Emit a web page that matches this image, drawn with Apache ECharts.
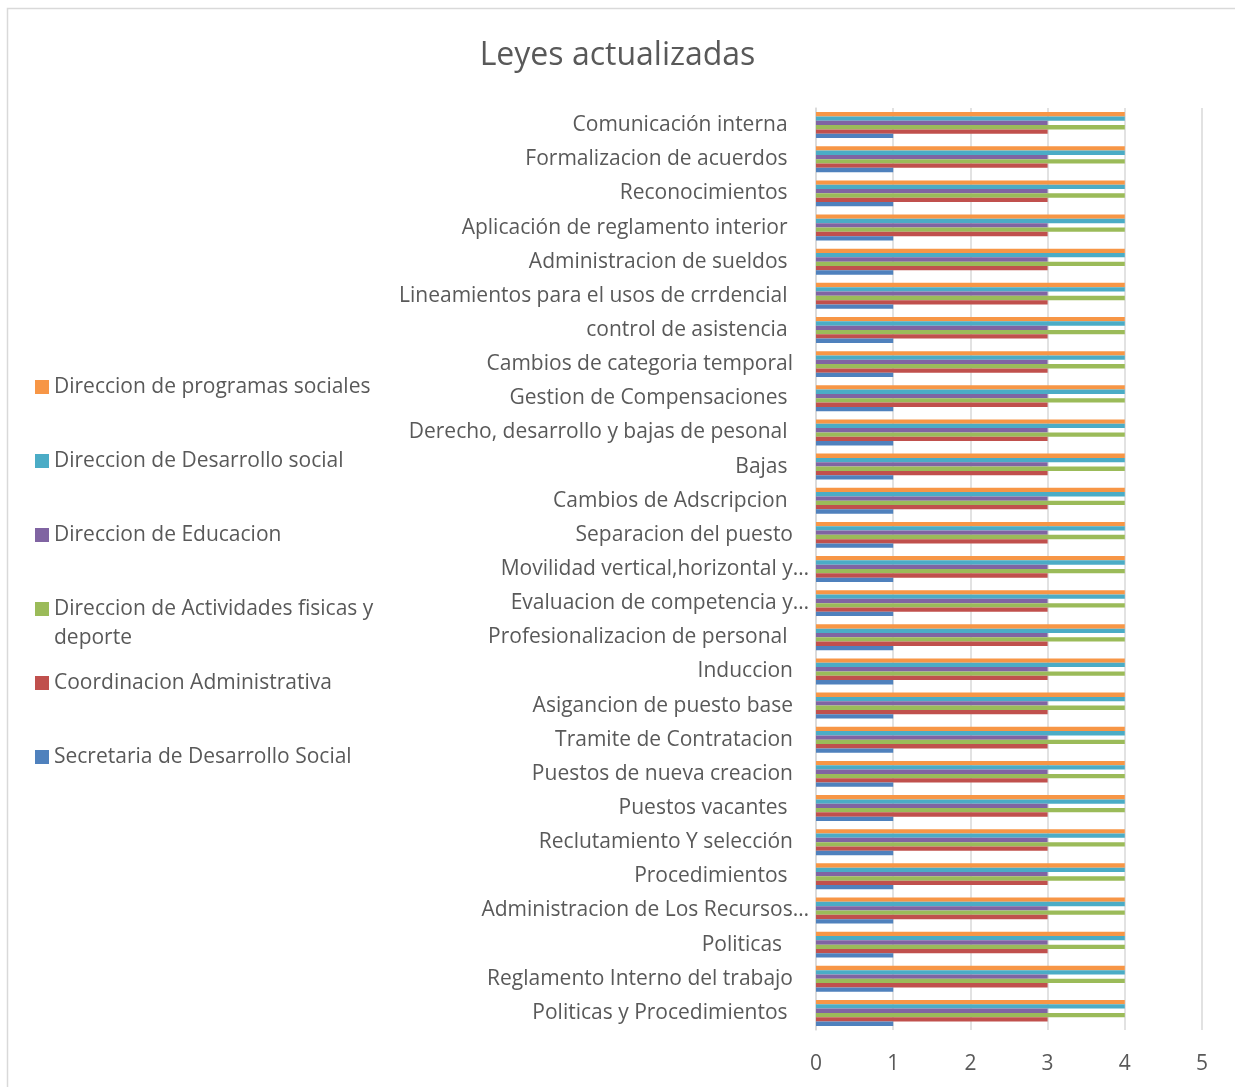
<!DOCTYPE html>
<html>
<head>
<meta charset="utf-8">
<title>Leyes actualizadas</title>
<script src="https://cdn.jsdelivr.net/npm/echarts@6/dist/echarts.min.js"></script>
<style>
  html, body { margin: 0; padding: 0; background: #ffffff; }
  #chart { width: 1235px; height: 1087px; }
</style>
</head>
<body>
<div id="chart"></div>
<script>
// Categories listed from the bottom of the axis to the top
const categories = [
  'Politicas y Procedimientos ',
  'Reglamento Interno del trabajo',
  'Politicas  ',
  'Administracion de Los Recursos…',
  'Procedimientos ',
  'Reclutamiento Y selección',
  'Puestos vacantes ',
  'Puestos de nueva creacion',
  'Tramite de Contratacion',
  'Asigancion de puesto base',
  'Induccion',
  'Profesionalizacion de personal ',
  'Evaluacion de competencia y…',
  'Movilidad vertical,horizontal y…',
  'Separacion del puesto',
  'Cambios de Adscripcion ',
  'Bajas ',
  'Derecho, desarrollo y bajas de pesonal ',
  'Gestion de Compensaciones ',
  'Cambios de categoria temporal',
  'control de asistencia ',
  'Lineamientos para el usos de crrdencial ',
  'Administracion de sueldos ',
  'Aplicación de reglamento interior ',
  'Reconocimientos ',
  'Formalizacion de acuerdos ',
  'Comunicación interna '
];

// Series in legend order (top of the legend first)
const seriesNames = [
  'Direccion de programas sociales',
  'Direccion de Desarrollo social',
  'Direccion de Educacion',
  'Direccion de Actividades fisicas y deporte',
  'Coordinacion Administrativa',
  'Secretaria de Desarrollo Social'
];

const programasSociales          = [4,4,4,4,4,4,4,4,4,4,4,4,4,4,4,4,4,4,4,4,4,4,4,4,4,4,4];
const direccionDesarrolloSocial  = [4,4,4,4,4,4,4,4,4,4,4,4,4,4,4,4,4,4,4,4,4,4,4,4,4,4,4];
const direccionEducacion         = [3,3,3,3,3,3,3,3,3,3,3,3,3,3,3,3,3,3,3,3,3,3,3,3,3,3,3];
const actividadesFisicasDeporte  = [4,4,4,4,4,4,4,4,4,4,4,4,4,4,4,4,4,4,4,4,4,4,4,4,4,4,4];
const coordinacionAdministrativa = [3,3,3,3,3,3,3,3,3,3,3,3,3,3,3,3,3,3,3,3,3,3,3,3,3,3,3];
const secretariaDesarrolloSocial = [1,1,1,1,1,1,1,1,1,1,1,1,1,1,1,1,1,1,1,1,1,1,1,1,1,1,1];

const seriesValues = [
  programasSociales,
  direccionDesarrolloSocial,
  direccionEducacion,
  actividadesFisicasDeporte,
  coordinacionAdministrativa,
  secretariaDesarrolloSocial
];

const xTicks = [0, 1, 2, 3, 4, 5];

const colors = ['#F79646', '#4BACC6', '#8064A2', '#9BBB59', '#C0504D', '#4F81BD'];
const textColor = '#595959';
const gridColor = '#D9D9D9';
const font = 'Open Sans';
const fontSize = 21;

// One legend block per series, stacked top to bottom
const legendCenters = [387, 461, 535, 609, 683, 757];
const legends = seriesNames.map((name, i) => {
  const wrapped = name === 'Direccion de Actividades fisicas y deporte';
  return {
    orient: 'vertical',
    left: 35,
    top: wrapped ? legendCenters[i] - 43.5 : legendCenters[i] - 14.5,
    padding: 0,
    itemWidth: 14,
    itemHeight: 14,
    itemGap: 0,
    icon: 'rect',
    selectedMode: false,
    data: [name],
    // blank first line keeps the square level with the first line of text
    formatter: n => wrapped ? '\nDireccion de Actividades fisicas y\ndeporte' : n,
    textStyle: {
      color: textColor,
      fontFamily: font,
      fontSize: fontSize,
      lineHeight: 29
    }
  };
});

const chart = echarts.init(document.getElementById('chart'), null, { renderer: 'canvas' });

chart.setOption({
  backgroundColor: '#ffffff',
  animation: false,
  title: {
    text: 'Leyes actualizadas',
    left: 'center',
    top: 35,
    textStyle: {
      color: textColor,
      fontFamily: font,
      fontSize: 32,
      fontWeight: 'normal'
    }
  },
  graphic: [{
    type: 'rect',
    silent: true,
    shape: { x: 7.5, y: 8.5, width: 1240, height: 1100 },
    style: { fill: 'none', stroke: gridColor, lineWidth: 1.5 }
  }],
  legend: legends,
  grid: {
    left: 816,
    right: 33,
    top: 108,
    bottom: 57
  },
  xAxis: {
    type: 'value',
    min: xTicks[0],
    max: xTicks[xTicks.length - 1],
    interval: 1,
    axisLine: { show: false },
    axisTick: { show: false },
    axisLabel: {
      color: textColor,
      fontFamily: font,
      fontSize: fontSize,
      margin: 24,
      formatter: v => String(v)
    },
    splitLine: { show: true, lineStyle: { color: gridColor, width: 1.5 } }
  },
  yAxis: {
    type: 'category',
    data: categories,
    axisLine: { show: true, lineStyle: { color: gridColor, width: 1.5 } },
    axisTick: { show: false },
    axisLabel: {
      interval: 0,
      margin: 7,
      color: textColor,
      fontFamily: font,
      fontSize: fontSize,
      formatter: v => v.endsWith('…') ? '{e|' + v + '}' : '{n|' + v + '}',
      rich: {
        n: { color: textColor, fontFamily: font, fontSize: fontSize, padding: [0, 16, 0, 0] },
        e: { color: textColor, fontFamily: font, fontSize: fontSize }
      }
    }
  },
  series: seriesNames.map((name, i) => ({
    name: name,
    type: 'bar',
    data: seriesValues[i],
    barGap: '0%',
    barCategoryGap: '24%',
    itemStyle: { color: colors[i] }
  }))
});
</script>
</body>
</html>
